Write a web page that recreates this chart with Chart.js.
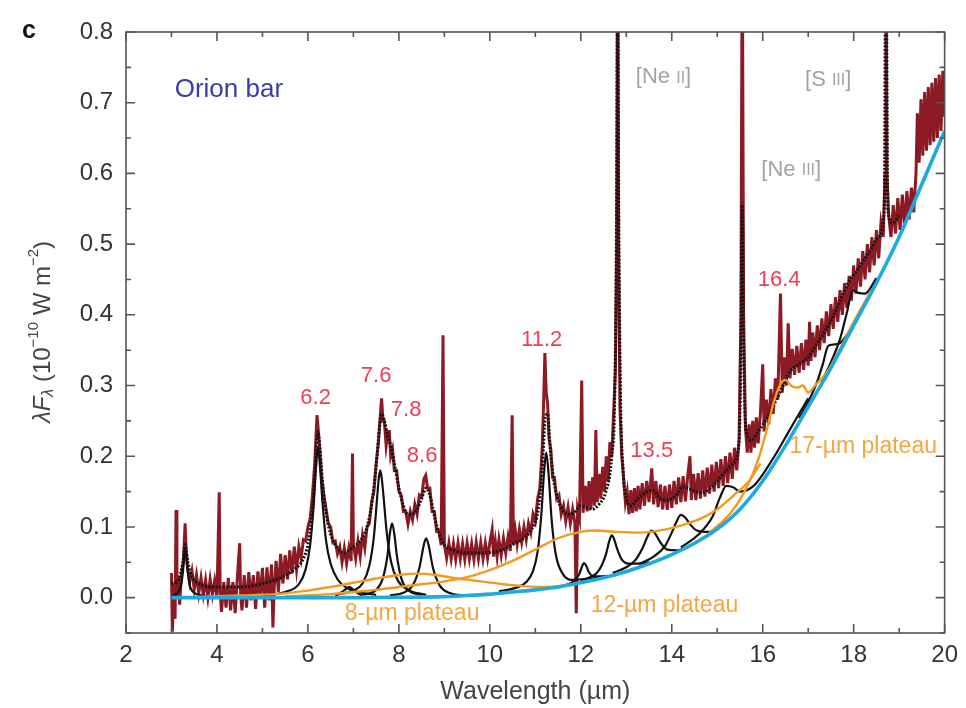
<!DOCTYPE html>
<html><head><meta charset="utf-8">
<script src="https://cdn.jsdelivr.net/npm/chart.js@4/dist/chart.umd.min.js"></script>
<style>html,body{margin:0;padding:0;background:#fff}#wrap{width:966px;height:708px}</style>
</head><body><div id="wrap"><canvas id="c" width="966" height="708"></canvas></div>
<script>
// ---------- data ----------
const xTicks = [2,4,6,8,10,12,14,16,18,20];
const yTicks = [0,0.1,0.2,0.3,0.4,0.5,0.6,0.7,0.8];

// observed spectrum [wavelength, lambda F_lambda]
const observed = [
[3.00,0.035],[3.02,-0.048],[3.05,0.02],[3.08,-0.03],[3.10,0.124],[3.12,0.0],[3.15,0.03],[3.18,-0.01],[3.22,0.035],[3.26,0.05],
[3.30,0.105],[3.32,0.07],[3.35,0.045],[3.40,0.022],[3.45,0.038],[3.50,0.012],[3.55,0.032],[3.60,0.006],[3.65,0.028],[3.70,0.004],
[3.75,0.025],[3.80,0.0],[3.85,0.026],[3.90,0.004],[3.95,0.024],[4.00,0.0],[4.05,0.149],[4.07,0.01],[4.10,-0.02],[4.15,0.022],
[4.20,-0.014],[4.25,0.028],[4.30,-0.018],[4.35,0.022],[4.40,-0.022],[4.45,0.03],[4.50,0.077],[4.52,0.005],[4.55,-0.018],[4.60,0.032],
[4.65,-0.014],[4.70,0.036],[4.75,-0.004],[4.80,0.032],[4.85,-0.016],[4.90,0.037],[4.95,0.0],[5.00,0.042],[5.05,-0.014],[5.10,0.043],
[5.15,-0.004],[5.20,0.047],[5.23,-0.042],[5.26,0.016],[5.30,0.052],[5.35,0.008],[5.40,0.062],[5.45,0.02],[5.50,0.06],[5.55,0.026],
[5.60,0.067],[5.65,0.034],[5.70,0.072],[5.75,0.04],[5.80,0.072],[5.85,0.055],[5.90,0.082],[5.95,0.08],[6.00,0.1],[6.05,0.112],
[6.10,0.145],[6.15,0.19],[6.20,0.258],[6.23,0.235],[6.26,0.21],[6.30,0.17],[6.35,0.145],[6.40,0.125],[6.45,0.105],[6.50,0.1],
[6.55,0.078],[6.60,0.08],[6.65,0.062],[6.70,0.072],[6.75,0.05],[6.80,0.07],[6.85,0.048],[6.90,0.07],[6.95,0.052],[6.98,0.204],
[7.00,0.075],[7.05,0.055],[7.10,0.08],[7.15,0.058],[7.20,0.088],[7.25,0.07],[7.30,0.1],[7.35,0.105],[7.40,0.135],[7.45,0.15],
[7.50,0.19],[7.55,0.22],[7.60,0.265],[7.62,0.282],[7.65,0.25],[7.68,0.25],[7.72,0.215],[7.76,0.235],[7.79,0.235],[7.82,0.2],
[7.86,0.21],[7.90,0.18],[7.95,0.18],[8.00,0.15],[8.05,0.145],[8.10,0.122],[8.15,0.122],[8.20,0.104],[8.25,0.122],[8.30,0.11],
[8.35,0.132],[8.40,0.118],[8.45,0.145],[8.50,0.142],[8.55,0.168],[8.59,0.173],[8.63,0.155],[8.68,0.155],[8.73,0.122],[8.78,0.122],
[8.83,0.094],[8.88,0.095],[8.93,0.074],[8.97,0.371],[9.00,0.075],[9.05,0.056],[9.10,0.077],[9.15,0.055],[9.20,0.076],[9.25,0.054],
[9.30,0.077],[9.35,0.055],[9.40,0.076],[9.45,0.054],[9.50,0.077],[9.55,0.055],[9.60,0.076],[9.65,0.054],[9.70,0.078],[9.75,0.055],
[9.80,0.078],[9.85,0.055],[9.90,0.077],[9.95,0.056],[10.00,0.078],[10.05,0.096],[10.08,0.058],[10.12,0.08],[10.16,0.058],[10.20,0.082],
[10.25,0.06],[10.30,0.084],[10.35,0.063],[10.40,0.086],[10.45,0.066],[10.49,0.258],[10.52,0.075],[10.56,0.095],[10.60,0.075],[10.65,0.097],
[10.70,0.078],[10.75,0.1],[10.80,0.082],[10.85,0.105],[10.90,0.092],[10.95,0.118],[11.00,0.108],[11.05,0.14],[11.10,0.155],[11.15,0.21],
[11.18,0.27],[11.21,0.346],[11.24,0.29],[11.27,0.275],[11.30,0.225],[11.34,0.21],[11.38,0.17],[11.42,0.17],[11.47,0.14],[11.52,0.145],
[11.57,0.118],[11.62,0.13],[11.67,0.108],[11.72,0.128],[11.77,0.105],[11.82,0.125],[11.87,0.106],[11.90,-0.022],[11.93,0.125],[11.97,0.112],
[12.02,0.307],[12.05,0.12],[12.10,0.158],[12.14,0.122],[12.18,0.165],[12.22,0.125],[12.26,0.17],[12.30,0.13],[12.33,0.237],[12.36,0.135],
[12.40,0.175],[12.44,0.14],[12.48,0.185],[12.52,0.15],[12.56,0.2],[12.60,0.165],[12.64,0.22],[12.68,0.2],[12.72,0.26],[12.76,0.32],
[12.79,0.5],[12.81,0.95],[12.83,0.5],[12.86,0.27],[12.90,0.2],[12.94,0.17],[12.98,0.135],[13.02,0.15],[13.06,0.118],[13.10,0.152],
[13.14,0.12],[13.18,0.155],[13.22,0.122],[13.26,0.158],[13.30,0.125],[13.35,0.162],[13.40,0.13],[13.45,0.165],[13.50,0.135],[13.56,0.183],
[13.60,0.132],[13.65,0.165],[13.70,0.128],[13.75,0.16],[13.80,0.125],[13.85,0.158],[13.90,0.124],[13.95,0.16],[14.00,0.127],[14.05,0.165],
[14.10,0.132],[14.15,0.17],[14.20,0.135],[14.25,0.172],[14.30,0.136],[14.35,0.172],[14.40,0.2],[14.43,0.138],[14.48,0.175],[14.53,0.138],
[14.58,0.176],[14.63,0.14],[14.68,0.18],[14.73,0.143],[14.78,0.184],[14.83,0.147],[14.88,0.188],[14.93,0.15],[14.98,0.192],[15.03,0.155],
[15.08,0.196],[15.13,0.158],[15.18,0.2],[15.23,0.162],[15.28,0.205],[15.33,0.168],[15.38,0.212],[15.43,0.18],[15.48,0.225],[15.52,0.4],
[15.55,0.95],[15.58,0.4],[15.62,0.24],[15.66,0.205],[15.70,0.245],[15.74,0.205],[15.78,0.25],[15.82,0.212],[15.86,0.255],[15.90,0.218],
[15.95,0.262],[16.00,0.33],[16.03,0.235],[16.08,0.28],[16.13,0.245],[16.18,0.295],[16.23,0.26],[16.28,0.31],[16.33,0.28],[16.39,0.43],
[16.43,0.29],[16.48,0.34],[16.52,0.3],[16.56,0.388],[16.60,0.31],[16.65,0.352],[16.70,0.315],[16.75,0.356],[16.80,0.318],[16.85,0.36],
[16.90,0.322],[16.95,0.365],[17.00,0.328],[17.03,0.39],[17.06,0.335],[17.10,0.375],[17.15,0.34],[17.20,0.385],[17.25,0.35],[17.30,0.395],
[17.35,0.36],[17.40,0.405],[17.45,0.37],[17.50,0.415],[17.55,0.38],[17.60,0.425],[17.65,0.39],[17.70,0.435],[17.75,0.4],[17.80,0.445],
[17.85,0.41],[17.90,0.455],[17.95,0.42],[18.00,0.47],[18.05,0.43],[18.10,0.48],[18.15,0.44],[18.20,0.49],[18.25,0.45],[18.30,0.5],
[18.35,0.46],[18.40,0.51],[18.45,0.47],[18.50,0.52],[18.55,0.48],[18.60,0.53],[18.65,0.51],[18.69,0.6],[18.71,0.95],[18.73,0.6],
[18.77,0.54],[18.82,0.51],[18.87,0.555],[18.92,0.515],[18.97,0.565],[19.02,0.52],[19.07,0.57],[19.12,0.525],[19.17,0.575],[19.22,0.535],
[19.27,0.58],[19.32,0.545],[19.37,0.6],[19.40,0.685],[19.44,0.615],[19.48,0.705],[19.52,0.625],[19.56,0.715],[19.60,0.632],[19.64,0.722],
[19.68,0.64],[19.72,0.728],[19.76,0.645],[19.80,0.735],[19.84,0.65],[19.88,0.74],[19.92,0.66],[19.96,0.745],[20.00,0.68]
];

// total model fit (black dotted)
const modelX = [3.0,3.15,3.25,3.3,3.36,3.45,3.6,4.0,4.5,5.0,5.4,5.7,5.9,6.0,6.08,6.14,6.19,6.22,6.26,6.32,6.4,6.5,6.65,6.8,6.92,7.0,7.15,7.3,7.42,7.52,7.58,7.62,7.68,7.75,7.82,7.9,8.0,8.1,8.2,8.3,8.4,8.5,8.6,8.7,8.8,8.9,9.0,9.2,9.6,10.0,10.3,10.5,10.7,10.9,11.05,11.15,11.22,11.27,11.33,11.42,11.55,11.7,11.85,12.0,12.1,12.25,12.4,12.55,12.68,12.75,12.79,12.81,12.83,12.87,12.93,13.0,13.1,13.25,13.45,13.58,13.75,13.9,14.1,14.25,14.45,14.65,14.9,15.15,15.35,15.48,15.52,15.55,15.58,15.63,15.75,15.9,16.1,16.3,16.45,16.6,16.8,17.0,17.2,17.4,17.6,17.88,18.1,18.35,18.55,18.67,18.71,18.75,18.85,19.0];
const modelY = [0.02,0.025,0.05,0.075,0.05,0.03,0.02,0.015,0.015,0.02,0.028,0.04,0.055,0.075,0.11,0.16,0.22,0.235,0.215,0.165,0.12,0.09,0.07,0.063,0.068,0.072,0.08,0.1,0.14,0.2,0.245,0.26,0.25,0.23,0.215,0.19,0.155,0.13,0.118,0.118,0.125,0.14,0.155,0.14,0.11,0.088,0.075,0.067,0.063,0.064,0.068,0.075,0.082,0.095,0.12,0.18,0.255,0.26,0.21,0.16,0.13,0.118,0.12,0.13,0.128,0.125,0.132,0.15,0.2,0.3,0.6,0.95,0.6,0.3,0.18,0.14,0.13,0.14,0.15,0.152,0.14,0.138,0.145,0.157,0.152,0.148,0.158,0.176,0.19,0.22,0.35,0.555,0.35,0.24,0.223,0.235,0.255,0.28,0.3,0.32,0.33,0.34,0.36,0.38,0.405,0.445,0.465,0.49,0.51,0.55,0.95,0.55,0.53,0.54];

// dust continuum (blue)
const contX = [3,4,5,6,7,8,9,9.5,10,10.5,11,11.5,12,12.5,13,13.5,14,14.5,15,15.5,16,16.5,17,17.5,18,18.5,19,19.5,20];
const contY = [0,0,0,0,0,0.0005,0.0015,0.003,0.005,0.008,0.011,0.015,0.021,0.028,0.037,0.048,0.061,0.077,0.097,0.125,0.165,0.215,0.27,0.325,0.385,0.445,0.51,0.585,0.66];

// PAH band components (black, on top of continuum)
const band33X = [3.0,3.1,3.2,3.25,3.3,3.35,3.4,3.5,3.7,4.0];
const band33Y = [0.002,0.005,0.015,0.035,0.07,0.04,0.018,0.007,0.003,0.001];
const band62X = [5.0,5.5,5.8,5.95,6.05,6.12,6.18,6.22,6.26,6.32,6.4,6.5,6.65,6.85,7.1,7.5];
const band62Y = [0.004,0.008,0.019,0.04,0.075,0.125,0.185,0.213,0.19,0.135,0.08,0.048,0.026,0.014,0.008,0.004];
const band69X = [6.6,6.75,6.85,6.91,6.97,7.05,7.2];
const band69Y = [0.003,0.008,0.013,0.015,0.013,0.008,0.003];
const band76X = [6.6,7.0,7.2,7.35,7.45,7.52,7.56,7.59,7.62,7.66,7.73,7.83,7.98,8.2,8.6];
const band76Y = [0.004,0.01,0.02,0.045,0.086,0.14,0.17,0.18,0.17,0.145,0.094,0.05,0.024,0.011,0.004];
const band78X = [7.2,7.5,7.65,7.75,7.8,7.85,7.9,7.95,8.05,8.2,8.5];
const band78Y = [0.004,0.011,0.028,0.06,0.09,0.105,0.09,0.062,0.028,0.011,0.004];
const band86X = [7.8,8.1,8.3,8.45,8.55,8.6,8.65,8.75,8.9,9.1,9.5];
const band86Y = [0.003,0.007,0.017,0.042,0.075,0.084,0.075,0.042,0.017,0.007,0.003];
const band112X = [10.2,10.6,10.8,10.95,11.05,11.13,11.19,11.24,11.29,11.36,11.45,11.6,11.8,12.0,12.4];
const band112Y = [0.009,0.0145,0.022,0.038,0.065,0.116,0.175,0.205,0.176,0.109,0.061,0.034,0.025,0.026,0.028];
const band120X = [11.6,11.8,11.9,11.97,12.02,12.07,12.12,12.17,12.25,12.4,12.6];
const band120Y = [0.017,0.021,0.027,0.034,0.043,0.049,0.045,0.037,0.031,0.03,0.031];
const band127X = [12.0,12.2,12.35,12.47,12.56,12.63,12.68,12.73,12.8,12.9,13.05,13.25,13.5];
const band127Y = [0.024,0.029,0.035,0.047,0.063,0.081,0.088,0.083,0.069,0.054,0.048,0.048,0.05];
const band135X = [12.7,13.0,13.2,13.35,13.47,13.55,13.63,13.75,13.9,14.1,14.4];
const band135Y = [0.035,0.043,0.053,0.069,0.087,0.095,0.091,0.078,0.068,0.067,0.072];
const band142X = [13.3,13.6,13.85,14.0,14.1,14.2,14.3,14.4,14.55,14.8,15.1];
const band142Y = [0.048,0.058,0.073,0.092,0.107,0.117,0.113,0.104,0.095,0.093,0.102];
const band152X = [14.2,14.6,14.9,15.05,15.2,15.35,15.5,15.8,16.2,16.6,17.0];
const band152Y = [0.071,0.09,0.115,0.14,0.158,0.156,0.15,0.158,0.194,0.238,0.282];
const band174X = [16.8,17.0,17.2,17.32,17.44,17.56,17.7,17.9];
const band174Y = [0.254,0.277,0.306,0.33,0.356,0.358,0.36,0.376];
const band179X = [17.3,17.5,17.7,17.85,17.98,18.1,18.25,18.5];
const band179Y = [0.306,0.333,0.366,0.403,0.435,0.431,0.43,0.452];

// plateaus (orange, on top of continuum)
const plat8X = [3.5,4.5,5.5,6,6.5,7,7.5,8,8.4,8.8,9.3,9.8,10.3,10.8,11.3,11.8,12.3];
const plat8Y = [0.001,0.003,0.006,0.01,0.015,0.021,0.027,0.032,0.034,0.032,0.027,0.023,0.019,0.016,0.015,0.019,0.025];
const plat12X = [5.5,6.5,7,7.5,8,8.5,9,9.5,10,10.5,11,11.5,12,12.3,12.8,13.3,13.9,14.3,14.65,15,15.4,15.7,15.95];
const plat12Y = [0.002,0.005,0.008,0.011,0.015,0.019,0.023,0.029,0.039,0.052,0.068,0.084,0.093,0.095,0.093,0.092,0.097,0.104,0.112,0.125,0.147,0.165,0.19];
const plat17X = [14.8,15.3,15.6,15.9,16.1,16.25,16.4,16.5,16.62,16.75,16.88,17.0,17.15,17.4,17.7,18.0,18.4];
const plat17Y = [0.09,0.12,0.15,0.195,0.24,0.278,0.303,0.308,0.3,0.297,0.3,0.29,0.3,0.318,0.352,0.39,0.436];

// text annotations (anchored in data coordinates)
const bandLabels = ['6.2','7.6','7.8','8.6','11.2','13.5','16.4'];
const bandLabelX = [6.17,7.50,8.16,8.51,11.14,13.56,16.36];
const bandLabelY = [0.282,0.313,0.265,0.200,0.364,0.207,0.449];
const plateauLabels = ['8-µm plateau','12-µm plateau','17-µm plateau'];
const plateauLabelX = [8.29,13.84,18.21];
const plateauLabelY = [-0.023,-0.012,0.214];

// ---------- chart ----------
const pairs = (xs, ys) => xs.map((x, i) => ({x, y: ys[i]}));
const RED = '#8b1a24', BLK = '#121212', ORG = '#f29a1f', BLU = '#1fa9e1';

function smooth(label, xs, ys, color, width, order, extra) {
  return Object.assign({label, data: pairs(xs, ys), borderColor: color, borderWidth: width,
    showLine: true, pointRadius: 0, fill: false, cubicInterpolationMode: 'monotone', order}, extra || {});
}

const datasets = [
  {label: 'observed', data: observed.map(p => ({x: p[0], y: p[1]})), borderColor: RED, borderWidth: 3,
   showLine: true, pointRadius: 0, tension: 0, order: 10},
  smooth('model', modelX, modelY, BLK, 3, 9, {borderDash: [2, 1.6]}),
  smooth('3.3', band33X, band33Y, BLK, 2.2, 5),
  smooth('6.2', band62X, band62Y, BLK, 2.2, 5),
  smooth('6.9', band69X, band69Y, BLK, 2.2, 5),
  smooth('7.6', band76X, band76Y, BLK, 2.2, 5),
  smooth('7.8', band78X, band78Y, BLK, 2.2, 5),
  smooth('8.6', band86X, band86Y, BLK, 2.2, 5),
  smooth('11.2', band112X, band112Y, BLK, 2.2, 5),
  smooth('12.0', band120X, band120Y, BLK, 2.2, 5),
  smooth('12.7', band127X, band127Y, BLK, 2.2, 5),
  smooth('13.5', band135X, band135Y, BLK, 2.2, 5),
  smooth('14.2', band142X, band142Y, BLK, 2.2, 5),
  smooth('15.2', band152X, band152Y, BLK, 2.2, 5),
  smooth('17.4', band174X, band174Y, BLK, 2.2, 5),
  smooth('17.9', band179X, band179Y, BLK, 2.2, 5),
  smooth('8 plateau', plat8X, plat8Y, ORG, 2.4, 3),
  smooth('12 plateau', plat12X, plat12Y, ORG, 2.4, 3),
  smooth('17 plateau', plat17X, plat17Y, ORG, 2.4, 3),
  smooth('continuum', contX, contY, BLU, 3.6, 1)
];

const FONT = '"Liberation Sans", Arial, Helvetica, sans-serif';

function richText(ctx, segs, cx, cy) {
  let total = 0;
  segs.forEach(s => { ctx.font = (s.it ? 'italic ' : '') + s.size + 'px ' + FONT; s.w = ctx.measureText(s.t).width; total += s.w; });
  let x = cx - total / 2;
  segs.forEach(s => { ctx.font = (s.it ? 'italic ' : '') + s.size + 'px ' + FONT; ctx.fillText(s.t, x, cy + (s.dy || 0)); x += s.w; });
}

const decor = {
  id: 'decor',
  afterDatasetsDraw(chart) {
    const {ctx, chartArea: a, scales: {x, y}} = chart;
    ctx.save();
    ctx.strokeStyle = '#555'; ctx.lineWidth = 1.6;
    ctx.strokeRect(a.left, a.top, a.right - a.left, a.bottom - a.top);
    ctx.beginPath();
    for (let v = 2; v <= 20; v += 1) {
      const px = x.getPixelForValue(v), L = (v % 2 === 0) ? 9 : 5;
      ctx.moveTo(px, a.bottom); ctx.lineTo(px, a.bottom - L);
      ctx.moveTo(px, a.top); ctx.lineTo(px, a.top + L);
    }
    for (let k = -1; k <= 16; k++) {
      const v = k * 0.05, py = y.getPixelForValue(v), L = (k % 2 === 0) ? 9 : 5;
      ctx.moveTo(a.left, py); ctx.lineTo(a.left + L, py);
      ctx.moveTo(a.right, py); ctx.lineTo(a.right - L, py);
    }
    ctx.stroke();
    ctx.restore();
  },
  afterDraw(chart) {
    const {ctx, scales: {x, y}} = chart;
    ctx.save();
    ctx.textBaseline = 'middle';
    ctx.fillStyle = '#111'; ctx.font = 'bold 25px ' + FONT; ctx.textAlign = 'left';
    ctx.fillText('c', 22, 31);
    ctx.save();
    ctx.translate(43, 332); ctx.rotate(-Math.PI / 2);
    ctx.fillStyle = '#444'; ctx.textAlign = 'left';
    richText(ctx, [
      {t: 'λF', size: 24, it: true},
      {t: 'λ', size: 16, it: true, dy: 6},
      {t: ' (10', size: 24},
      {t: '−10', size: 15, dy: -9},
      {t: ' W m', size: 24},
      {t: '−2', size: 15, dy: -9},
      {t: ')', size: 24}
    ], 0, 0);
    ctx.restore();
    ctx.textAlign = 'left';
    ctx.fillStyle = '#3b3ba8'; ctx.font = '26px ' + FONT;
    ctx.fillText('Orion bar', x.getPixelForValue(3.07), y.getPixelForValue(0.718));
    ctx.fillStyle = '#a3a3a3';
    const ion = (pre, rom, xv, yv) => {
      let px = x.getPixelForValue(xv); const py = y.getPixelForValue(yv);
      ctx.font = '22px ' + FONT; ctx.fillText(pre, px, py); px += ctx.measureText(pre).width;
      ctx.font = '16px ' + FONT; ctx.fillText(rom, px, py + 1); px += ctx.measureText(rom).width;
      ctx.font = '22px ' + FONT; ctx.fillText(']', px, py);
    };
    ion('[Ne ', 'II', 13.21, 0.736);
    ion('[S ', 'III', 16.93, 0.732);
    ion('[Ne ', 'III', 15.97, 0.605);
    ctx.textAlign = 'center';
    ctx.fillStyle = '#ee3e55'; ctx.font = '22px ' + FONT;
    bandLabels.forEach((t, i) => ctx.fillText(t, x.getPixelForValue(bandLabelX[i]), y.getPixelForValue(bandLabelY[i])));
    ctx.fillStyle = '#f5a641'; ctx.font = '23px ' + FONT;
    plateauLabels.forEach((t, i) => ctx.fillText(t, x.getPixelForValue(plateauLabelX[i]), y.getPixelForValue(plateauLabelY[i])));
    ctx.restore();
  }
};

new Chart(document.getElementById('c'), {
  type: 'scatter',
  data: {datasets},
  options: {
    responsive: false, animation: false, devicePixelRatio: 1,
    layout: {padding: {top: 32, right: 20, bottom: 0, left: 0}},
    plugins: {legend: {display: false}, tooltip: {enabled: false}},
    scales: {
      x: {type: 'linear', min: 2, max: 20,
        afterBuildTicks: s => { s.ticks = xTicks.map(v => ({value: v})); },
        afterFit: s => { s.height = 75; },
        grid: {display: false, drawTicks: false}, border: {display: false},
        ticks: {color: '#333', font: {size: 24, family: FONT}, padding: 8, maxRotation: 0, callback: v => String(v)},
        title: {display: true, text: 'Wavelength (µm)', color: '#444', font: {size: 25, family: FONT}, padding: {top: 0, bottom: 1}}
      },
      y: {type: 'linear', min: -0.05, max: 0.8,
        afterBuildTicks: s => { s.ticks = yTicks.map(v => ({value: v})); },
        afterFit: s => { s.width = 126; },
        grid: {display: false, drawTicks: false}, border: {display: false},
        ticks: {color: '#333', font: {size: 24, family: FONT}, padding: 13, callback: v => v.toFixed(1)}
      }
    }
  },
  plugins: [decor]
});
</script></body></html>
